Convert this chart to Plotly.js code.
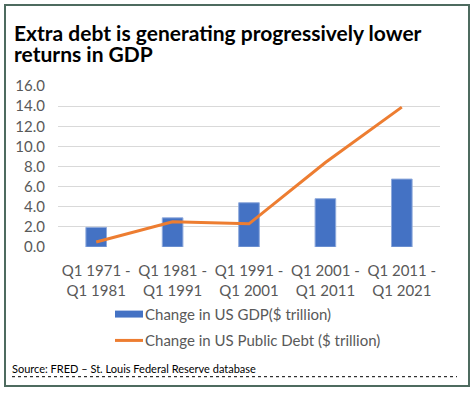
<!DOCTYPE html>
<html>
<head>
<meta charset="utf-8">
<script src="https://cdn.plot.ly/plotly-3.0.1.min.js"></script>
<style>
  html, body { margin: 0; padding: 0; background: #fff; }
  #wrap { position: relative; width: 475px; height: 393px; }
  #chart { position: absolute; left: 0; top: 0; width: 475px; height: 393px; }
  #frame { position: absolute; left: 4px; top: 4px; width: 462px; height: 379px;
           border: 2px solid #4e6b5f; pointer-events: none; }
</style>
</head>
<body>
<div id="wrap">
  <div id="chart"></div>
  <div id="frame"></div>
</div>
<script>
const categories = ["Q1 1971 -<br>Q1 1981", "Q1 1981 -<br>Q1 1991", "Q1 1991 -<br>Q1 2001", "Q1 2001 -<br>Q1 2011", "Q1 2011 -<br>Q1 2021"];
const gdpChange = [1.95, 2.9, 4.4, 4.8, 6.75];
const debtChange = [0.5, 2.5, 2.3, 8.4, 13.9];
const yTickVals = [0, 2, 4, 6, 8, 10, 12, 14, 16];
const yTickText = ["0.0", "2.0", "4.0", "6.0", "8.0", "10.0", "12.0", "14.0", "16.0"];
const seriesNames = ["Change in US GDP($ trillion)", "Change in US Public Debt ($ trillion)"];
const titleLines = ["Extra debt is generating progressively lower", "returns in GDP"];
const sourceText = "Source: FRED \u2013 St. Louis Federal Reserve database";

const FONT = "Lato, 'Open Sans', sans-serif";
const GRAY = "#595959";
const BLUE = "#4472C4";
const ORANGE = "#ED7D31";

// plot area in pixels
const PL = 58, PR = 440, PT = 85.5, PB = 247.5;
const px = x => (x - PL) / (PR - PL);
const py = y => (PB - y) / (PB - PT);

const data = [
  {
    type: "bar", x: categories, y: gdpChange, name: seriesNames[0],
    marker: { color: BLUE, line: { color: "#8faadc", width: 1 } },
    width: 0.27
  },
  {
    type: "scatter", mode: "lines", x: categories, y: debtChange, name: seriesNames[1],
    line: { color: ORANGE, width: 3 }
  }
];

const layout = {
  width: 475, height: 393,
  margin: { l: PL, r: 475 - PR, t: PT, b: 393 - PB },
  paper_bgcolor: "#ffffff", plot_bgcolor: "#ffffff",
  font: { family: FONT, color: GRAY, size: 15 },
  xaxis: {
    type: "category", showgrid: false, zeroline: false, showline: false,
    tickfont: { family: FONT, size: 15, color: GRAY }, ticks: "", ticklabelstandoff: 13
  },
  yaxis: {
    range: [0, 16], tickvals: yTickVals, ticktext: yTickText,
    showgrid: true, gridcolor: "#d9d9d9", gridwidth: 1, zeroline: false, showline: false,
    tickfont: { family: FONT, size: 15, color: GRAY }, ticks: "", ticklabelstandoff: 12
  },
  showlegend: false,
  annotations: [
    {
      text: "<b>" + titleLines[0] + "</b>", xref: "paper", yref: "paper",
      x: px(12), y: py(31.5), xanchor: "left", yanchor: "middle", showarrow: false,
      font: { family: FONT, size: 21, color: "#000000" }
    },
    {
      text: "<b>" + titleLines[1] + "</b>", xref: "paper", yref: "paper",
      x: px(12), y: py(52.5), xanchor: "left", yanchor: "middle", showarrow: false,
      font: { family: FONT, size: 21, color: "#000000" }
    },
    {
      text: seriesNames[0], xref: "paper", yref: "paper",
      x: px(143), y: py(315), xanchor: "left", yanchor: "middle", showarrow: false,
      font: { family: FONT, size: 15, color: GRAY }
    },
    {
      text: seriesNames[1], xref: "paper", yref: "paper",
      x: px(143), y: py(341.5), xanchor: "left", yanchor: "middle", showarrow: false,
      font: { family: FONT, size: 15, color: GRAY }
    },
    {
      text: sourceText, xref: "paper", yref: "paper",
      x: px(10), y: py(369.5), xanchor: "left", yanchor: "middle",
      showarrow: false, font: { family: FONT, size: 11, color: "#000000" }
    }
  ],
  shapes: [
    {
      type: "rect", xref: "paper", yref: "paper",
      x0: px(115), x1: px(143), y0: py(311.5), y1: py(318.5),
      fillcolor: BLUE, line: { width: 0 }
    },
    {
      type: "line", xref: "paper", yref: "paper",
      x0: px(115), x1: px(143), y0: py(341.5), y1: py(341.5),
      line: { color: ORANGE, width: 3 }
    },
    {
      type: "line", xref: "paper", yref: "paper",
      x0: px(12), x1: px(457), y0: py(378), y1: py(378),
      line: { color: "#000000", width: 1, dash: "dot" }
    }
  ],
  bargap: 0.7
};

Plotly.newPlot("chart", data, layout, { displayModeBar: false, staticPlot: true });
</script>
</body>
</html>
